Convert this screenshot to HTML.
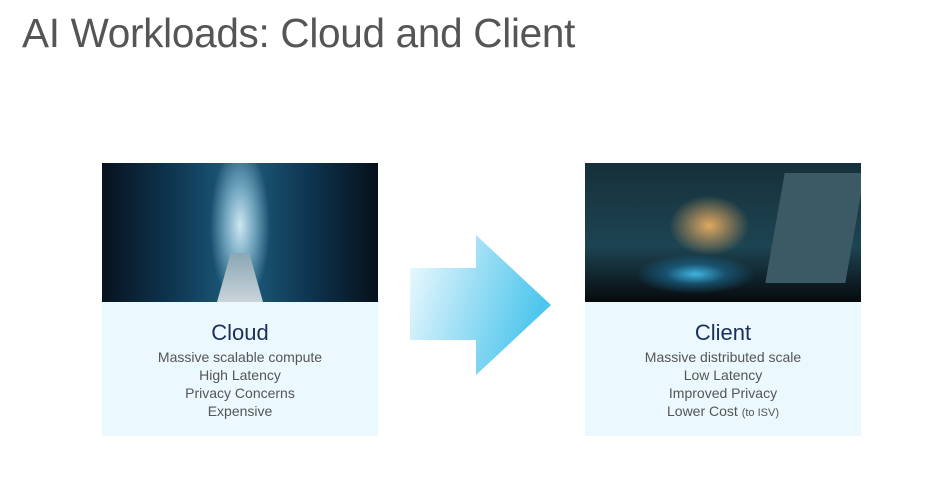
<!DOCTYPE html>
<html><head><meta charset="utf-8"><style>
body{margin:0;width:947px;height:500px;background:#fff;position:relative;overflow:hidden;font-family:"Liberation Sans",sans-serif}
.t{position:absolute;left:22px;top:10px;font-size:40.5px;color:#555;letter-spacing:-0.3px;white-space:nowrap}
.card{position:absolute;top:163px;width:276px;height:273px;background:#ebf8fd}
.img{position:absolute;left:0;top:0;width:100%;height:139px;overflow:hidden}
.txt{position:absolute;left:0;top:157px;width:100%;text-align:center;color:#555;font-size:14px;line-height:18px}
.txt h2{margin:0 0 2px;font-weight:normal;font-size:22px;color:#1b2f5c;line-height:26px}
</style></head><body>
<div class="t">AI Workloads: Cloud and Client</div>
<div class="card" style="left:102px">
 <div class="img" style="background:radial-gradient(ellipse 30px 80px at 50% 45%,#cfe6f0 0%,#7fb0c8 40%,rgba(20,60,90,0) 100%),linear-gradient(90deg,#07121e 0%,#0e3550 25%,#1f5f80 50%,#0e3550 75%,#06101a 100%)">
  <div style="position:absolute;left:115px;top:90px;width:46px;height:49px;background:linear-gradient(#8aa6b4,#c9d4da);clip-path:polygon(30% 0,70% 0,100% 100%,0 100%)"></div>
 </div>
 <div class="txt"><h2>Cloud</h2>Massive scalable compute<br>High Latency<br>Privacy Concerns<br>Expensive</div>
</div>
<svg style="position:absolute;left:405px;top:230px" width="150" height="150">
 <defs><linearGradient id="g" x1="0" y1="0" x2="1" y2="0.3"><stop offset="0" stop-color="#f2fbff"/><stop offset="0.5" stop-color="#9fdff5"/><stop offset="1" stop-color="#4cc6ec"/></linearGradient></defs>
 <polygon points="5,38 71,38 71,5 146,75 71,145 71,110 5,110" fill="url(#g)"/>
</svg>
<div class="card" style="left:585px">
 <div class="img" style="background:radial-gradient(ellipse 60px 20px at 40% 80%,#3fb4e0 0%,rgba(30,120,170,0.5) 50%,rgba(0,0,0,0) 100%),radial-gradient(ellipse 40px 30px at 45% 45%,#e0a860 0%,rgba(180,120,60,0) 100%),linear-gradient(180deg,#16303a 0%,#1d4452 60%,#060a0c 100%)">
  <div style="position:absolute;left:190px;top:10px;width:80px;height:110px;background:#3c5a66;transform:skewX(-10deg)"></div>
 </div>
 <div class="txt"><h2>Client</h2>Massive distributed scale<br>Low Latency<br>Improved Privacy<br>Lower Cost <span style="font-size:11px">(to ISV)</span></div>
</div>
</body></html>
